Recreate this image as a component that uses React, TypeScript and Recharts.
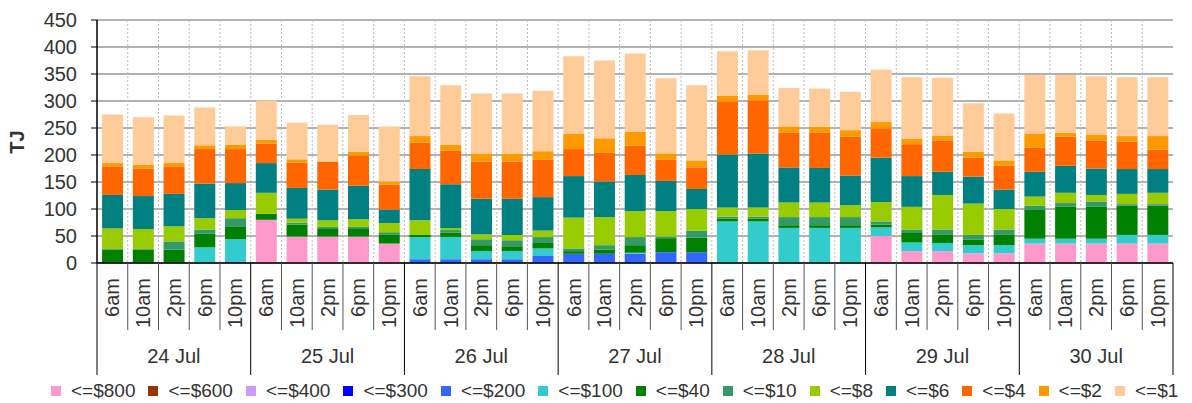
import React from 'react';
import { BarChart, Bar, XAxis, YAxis, CartesianGrid } from 'recharts';

const days = ['24 Jul', '25 Jul', '26 Jul', '27 Jul', '28 Jul', '29 Jul', '30 Jul'];
const times = ['6am', '10am', '2pm', '6pm', '10pm'];
const yTicks = [0, 50, 100, 150, 200, 250, 300, 350, 400, 450];

const seriesNames = ['<=$800', '<=$600', '<=$400', '<=$300', '<=$200', '<=$100', '<=$40', '<=$10', '<=$8', '<=$6', '<=$4', '<=$2', '<=$1'];
const seriesColors = ['#FF99CC', '#993300', '#CC99FF', '#0000FF', '#3366FF', '#33CCCC', '#008000', '#339966', '#99CC00', '#008080', '#FF6600', '#FF9900', '#FFCC99'];

const le800 = [0, 0, 0, 0, 0, 80, 49, 49, 49, 36, 0, 0, 0, 0, 0, 0, 0, 0, 1, 1, 0, 0, 0, 0, 0, 50, 22, 22, 18, 18, 36, 36, 36, 36, 36];
const le600 = [0, 0, 0, 0, 0, 0, 0, 0, 0, 0, 0, 0, 0, 0, 0, 0, 0, 0, 0, 0, 0, 0, 0, 0, 0, 0, 0, 0, 0, 0, 0, 0, 0, 0, 0];
const le400 = [0, 0, 0, 0, 0, 0, 0, 0, 0, 0, 0, 0, 0, 0, 0, 0, 0, 0, 0, 0, 0, 0, 0, 0, 0, 0, 0, 0, 0, 0, 0, 0, 0, 0, 0];
const le300 = [0, 0, 0, 0, 0, 0, 0, 0, 0, 0, 0, 0, 0, 0, 0, 0, 0, 0, 0, 0, 0, 0, 0, 0, 0, 0, 0, 0, 0, 0, 0, 0, 0, 0, 0];
const le200 = [0, 0, 0, 1, 3, 0, 0, 0, 0, 0, 7, 7, 7, 7, 13, 17, 17, 17, 19, 19, 0, 0, 0, 0, 0, 0, 0, 0, 0, 0, 0, 0, 0, 0, 0];
const le100 = [0, 0, 0, 28, 41, 0, 0, 0, 0, 0, 41, 41, 15, 15, 14, 0, 0, 2, 0, 0, 77, 77, 65, 65, 65, 16, 16, 15, 15, 15, 9, 9, 9, 16, 16];
const le40 = [25, 25, 25, 25, 24, 11, 22, 14, 14, 17, 4, 8, 11, 9, 10, 5, 8, 14, 26, 27, 5, 5, 5, 5, 5, 5, 19, 15, 10, 19, 54, 59, 59, 54, 54];
const le10 = [1, 1, 15, 8, 15, 0, 4, 4, 4, 4, 0, 5, 11, 11, 11, 5, 8, 15, 3, 13, 4, 4, 15, 15, 15, 6, 5, 10, 9, 10, 7, 7, 10, 3, 3];
const le8 = [38, 37, 28, 21, 15, 39, 7, 12, 14, 17, 27, 4, 9, 10, 12, 57, 52, 48, 47, 40, 17, 17, 27, 27, 22, 36, 42, 64, 58, 38, 17, 19, 12, 19, 21];
const le6 = [62, 61, 60, 64, 50, 55, 57, 57, 62, 25, 95, 81, 66, 67, 62, 77, 66, 67, 56, 37, 98, 100, 65, 64, 55, 82, 57, 43, 50, 36, 46, 50, 49, 46, 44];
const le4 = [53, 51, 50, 64, 63, 36, 47, 51, 56, 46, 49, 62, 69, 69, 69, 50, 53, 54, 39, 40, 98, 98, 64, 65, 72, 54, 59, 58, 35, 44, 45, 54, 52, 51, 36];
const le2 = [6, 7, 7, 7, 8, 7, 6, 1, 7, 6, 12, 11, 15, 15, 16, 28, 27, 26, 12, 13, 11, 11, 12, 11, 12, 12, 10, 9, 11, 10, 26, 7, 11, 10, 25];
const le1 = [90, 88, 88, 70, 34, 73, 68, 68, 68, 102, 111, 110, 111, 111, 112, 144, 144, 145, 139, 139, 82, 82, 71, 71, 71, 97, 114, 107, 90, 87, 108, 107, 108, 109, 109];

const seriesValues = [le800, le600, le400, le300, le200, le100, le40, le10, le8, le6, le4, le2, le1];

const data = days.flatMap((d, di) =>
  times.map((t, ti) => {
    const i = di * times.length + ti;
    const row: any = { key: `${d} ${t}`, day: d, time: t };
    seriesValues.forEach((vals, s) => {
      row[`s${s}`] = vals[i];
    });
    return row;
  })
);

const FONT = '"Liberation Sans", Arial, Helvetica, sans-serif';
const TEXT = '#333333';

const XTick = (props: any) => {
  const { x, y, payload } = props;
  const index: number = props.index ?? payload?.index ?? 0;
  const off: number = payload?.offset ?? 15.37;
  const row = data[index];
  if (!row) return null;
  const dayStart = index % times.length === 0;
  const last = index === data.length - 1;
  const ty = y + 15;
  return (
    <g>
      <line x1={x - off} x2={x - off} y1={y} y2={y + (dayStart ? 112 : 67)} stroke={dayStart ? '#000' : '#555'} strokeWidth={1} />
      {last && <line x1={x + off} x2={x + off} y1={y} y2={y + 112} stroke="#000" strokeWidth={1} />}
      <text
        x={x}
        y={ty}
        transform={`rotate(-90 ${x} ${ty})`}
        textAnchor="end"
        dy="0.35em"
        fill={TEXT}
        fontSize={20}
        fontFamily={FONT}
      >
        {row.time}
      </text>
      {index % times.length === 2 && (
        <text x={x} y={y + 93} textAnchor="middle" dy="0.35em" fill={TEXT} fontSize={20} fontFamily={FONT}>
          {row.day}
        </text>
      )}
    </g>
  );
};

const vGen = (args: any) => {
  const off = args?.offset;
  const left = off?.left ?? 97;
  const width = off?.width ?? 1076;
  const n = data.length;
  const w = width / n;
  return Array.from({ length: n - 1 }, (_, i) => left + (i + 1) * w);
};

const YLabel = () => (
  <text
    x={17}
    y={142}
    transform="rotate(-90 17 142)"
    textAnchor="middle"
    dy="0.35em"
    fill={TEXT}
    fontSize={20}
    fontWeight="bold"
    fontFamily={FONT}
  >
    TJ
  </text>
);

const LegendBox = () => (
  <div
    style={{
      position: 'absolute',
      left: 51,
      top: 380,
      height: 22,
      display: 'flex',
      alignItems: 'center',
      whiteSpace: 'nowrap',
      fontFamily: FONT,
      fontSize: 19,
      color: TEXT,
    }}
  >
    {seriesNames.map((n, i) => (
      <div key={n} style={{ display: 'flex', alignItems: 'center', marginRight: 13 }}>
        <div style={{ width: 10, height: 10, background: seriesColors[i], marginRight: 10 }} />
        <span>{n}</span>
      </div>
    ))}
  </div>
);

export default function App() {
  return (
    <div style={{ position: 'absolute', left: 0, top: 0, width: 1192, height: 403, background: '#fff', overflow: 'hidden' }}>
      <BarChart
        width={1192}
        height={403}
        data={data}
        margin={{ top: 20, right: 19, bottom: 20, left: 0 }}
        barCategoryGap="16.5%"
      >
        <CartesianGrid vertical={false} stroke="#999" strokeWidth={1.5} />
        <CartesianGrid horizontal={false} stroke="#bbb" strokeDasharray="2 2" verticalCoordinatesGenerator={vGen} />
        <XAxis
          dataKey="key"
          interval={0}
          tick={<XTick />}
          tickLine={false}
          tickSize={0}
          tickMargin={0}
          height={120}
          axisLine={{ stroke: '#000', strokeWidth: 1.5 }}
        />
        <YAxis
          domain={[0, 450]}
          ticks={yTicks}
          width={97}
          tickSize={6}
          tickMargin={14}
          tickLine={{ stroke: '#000' }}
          axisLine={{ stroke: '#000', strokeWidth: 1.5 }}
          tick={{ fill: TEXT, fontSize: 20, fontFamily: FONT }}
          interval={0}
          label={<YLabel />}
        />
        <YAxis
          yAxisId="right"
          orientation="right"
          domain={[0, 450]}
          width={0}
          tick={false}
          tickLine={false}
          axisLine={{ stroke: '#999', strokeWidth: 1.5 }}
        />
        {seriesNames.map((n, i) => (
          <Bar key={n} dataKey={`s${i}`} name={n} stackId="a" fill={seriesColors[i]} isAnimationActive={false} />
        ))}
      </BarChart>
      <LegendBox />
    </div>
  );
}
